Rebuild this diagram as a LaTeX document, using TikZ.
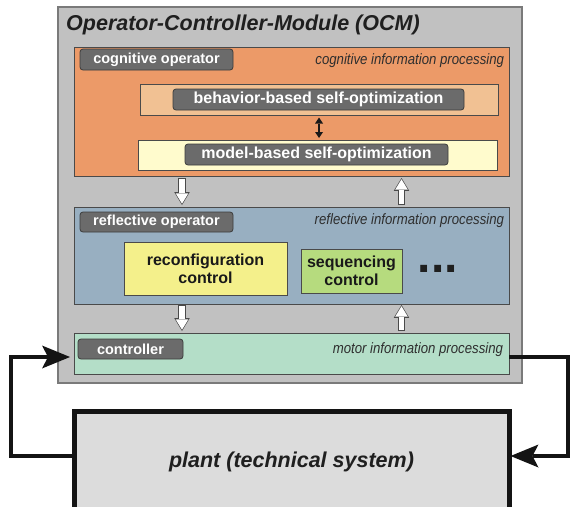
\documentclass[tikz,border=0pt]{standalone}
\usepackage{fontspec}
\setmainfont{Liberation Sans}
\newfontfamily\narrowsans[FakeStretch=0.88]{Liberation Sans}
\usetikzlibrary{arrows.meta,calc}
\definecolor{ocmgray}{HTML}{C1C1C1}
\definecolor{ocmedge}{HTML}{7A7A7A}
\definecolor{cogfill}{HTML}{EC9A68}
\definecolor{behfill}{HTML}{F1C193}
\definecolor{modfill}{HTML}{FFFBCD}
\definecolor{reflfill}{HTML}{98AFC1}
\definecolor{reconffill}{HTML}{F4F08B}
\definecolor{seqfill}{HTML}{B6DB7E}
\definecolor{ctrlfill}{HTML}{B4DEC8}
\definecolor{plantfill}{HTML}{DCDCDC}
\definecolor{pillfill}{HTML}{6B6B6B}
\definecolor{pilledge}{HTML}{3C3C3C}
\definecolor{boxedge}{HTML}{4A4A4A}
\definecolor{labelgray}{HTML}{2E2E2E}
\definecolor{arrowedge}{HTML}{4A4A4A}
\tikzset{
  panel/.style={rectangle, inner sep=0pt, outer sep=0pt, draw=boxedge, line width=0.8pt},
  pill/.style={rectangle, rounded corners=3pt, fill=pillfill, draw=pilledge, line width=0.8pt,
    inner sep=0pt, outer sep=0pt, text=white, font=\fontsize{14.5}{16}\selectfont\bfseries},
  bigpill/.style={pill, font=\fontsize{16}{18}\selectfont\bfseries},
  italab/.style={inner sep=0pt, outer sep=0pt, anchor=base east, text=labelgray,
    font=\narrowsans\fontsize{15}{17}\selectfont\itshape},
  ctext/.style={inner sep=0pt, outer sep=0pt, align=center, text=black!90,
    font=\fontsize{16}{18.4}\selectfont\bfseries},
  feedback/.style={line width=4pt, draw=black!92, line join=miter,
    -{Stealth[length=28pt,width=23pt,inset=6pt,line width=0pt]}},
  twohead/.style={line width=1.6pt, draw=black!90,
    {Triangle[length=6pt,width=8pt,line width=0pt]}-{Triangle[length=6pt,width=8pt,line width=0pt]}}
}
\newcommand\hollowarrow[2]{%
  \draw[line width=7.4pt, draw=arrowedge, -{Triangle[length=12.8pt,width=15.4pt,line width=0pt]}] #1 -- #2;
  \draw[line width=5.8pt, draw=white, shorten <=0.8pt, shorten >=1.3pt,
    -{Triangle[length=10.4pt,width=12.6pt,line width=0pt]}] #1 -- #2;}
\begin{document}
\begin{tikzpicture}[x=1pt,y=-1pt]
\useasboundingbox (0,0) rectangle (570,506);
\clip (0,0) rectangle (570,506);
% outer module
\node[panel, fill=ocmgray, draw=ocmedge, line width=1.2pt, minimum width=464, minimum height=376] (ocm) at (290,195) {};
\node[inner sep=0pt, anchor=base west, text=black!88, font=\fontsize{21.5}{24}\selectfont\bfseries\itshape] (title) at (66,30.5) {Operator-Controller-Module (OCM)};
% cognitive layer
\node[panel, fill=cogfill, minimum width=435, minimum height=129] (cog) at (291.5,111.5) {};
\node[pill, minimum width=153, minimum height=21] (cogop) at (156.5,59.5) {cognitive operator};
\node[italab] (coglab) at (504,64) {cognitive information processing};
\node[panel, fill=behfill, minimum width=358, minimum height=31] (beh) at (319,99.5) {};
\node[bigpill, minimum width=291, minimum height=21] (behop) at (318.5,99.5) {behavior-based self-optimization};
\node[panel, fill=modfill, minimum width=359, minimum height=30] (mod) at (317.5,155) {};
\node[bigpill, minimum width=263, minimum height=21] (modop) at (316.5,154.5) {model-based self-optimization};
\draw[twohead, shorten <=2.5pt, shorten >=2pt] (beh.south) -- (beh.south |- mod.north);
% reflective layer
\node[panel, fill=reflfill, minimum width=435, minimum height=97] (refl) at (291.5,255.5) {};
\node[pill, minimum width=153, minimum height=20] (reflop) at (156.5,222) {reflective operator};
\node[italab] (refllab) at (504,224) {reflective information processing};
\node[panel, fill=reconffill, minimum width=163, minimum height=53] (reconf) at (205.5,268.5) {};
\node[ctext] at (reconf) {reconfiguration\\control};
\node[panel, fill=seqfill, minimum width=101, minimum height=44] (seq) at (351.5,271) {};
\node[ctext] at (seq) {sequencing\\control};
\node[inner sep=0pt, anchor=base west, font=\fontsize{48}{48}\selectfont\bfseries, text=black!88] (dots) at (417.5,272) {...};
% controller layer
\node[panel, fill=ctrlfill, minimum width=435, minimum height=41] (ctrl) at (291.5,353.5) {};
\node[pill, minimum width=105, minimum height=20] (ctrlop) at (130.5,349) {controller};
\node[italab] (ctrllab) at (503,353) {motor information processing};
% block arrows between layers
\coordinate (xdown) at (182,0);
\coordinate (xup) at (401.5,0);
\hollowarrow{([yshift=-2pt]cog.south -| xdown)}{([yshift=2pt]refl.north -| xdown)}
\hollowarrow{([yshift=2pt]refl.north -| xup)}{([yshift=-2pt]cog.south -| xup)}
\hollowarrow{([yshift=-1pt]refl.south -| xdown)}{([yshift=2pt]ctrl.north -| xdown)}
\hollowarrow{([yshift=2pt]ctrl.north -| xup)}{([yshift=-1pt]refl.south -| xup)}
% plant
\node[rectangle, inner sep=0pt, outer sep=0pt, fill=plantfill, draw=black!92, line width=5pt,
  minimum width=435, minimum height=106] (plant) at (292,464.5) {};
\node[inner sep=0pt, anchor=base, text=black!88, font=\fontsize{21.5}{24}\selectfont\bfseries\itshape] (plantlab) at (291.5,467) {plant (technical system)};
% feedback loop
\draw[feedback, shorten >=4pt] ([yshift=8.5pt]plant.west) -- ++(-63.5,0) |- ([yshift=-3.5pt]ctrl.west);
\draw[feedback, shorten >=1pt] ([yshift=-3.5pt]ctrl.east) -- ++(58.5,0) |- ([yshift=8.5pt]plant.east);
\end{tikzpicture}
\end{document}
